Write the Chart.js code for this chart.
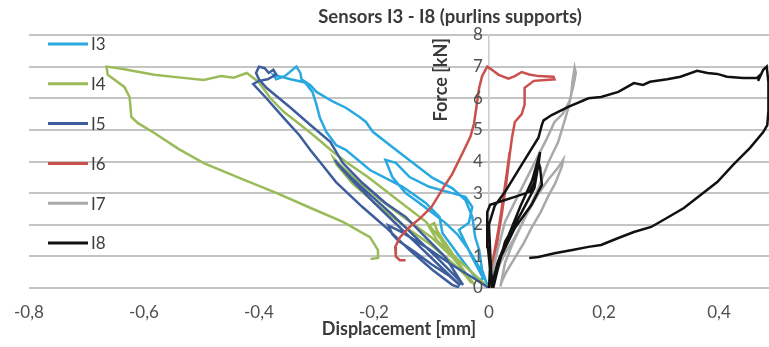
<!DOCTYPE html>
<html>
<head>
<meta charset="utf-8">
<script src="https://cdn.jsdelivr.net/npm/chart.js@4"></script>
<style>
  html, body { margin: 0; padding: 0; background: #fff; }
  #wrap { width: 769px; height: 347px; }
</style>
</head>
<body>
<div id="wrap"><canvas id="chart"></canvas></div>
<script>
// Sensors I3 - I8, force vs displacement
const chartTitle = 'Sensors I3 - I8 (purlins supports)';
const xTitle = 'Displacement [mm]';
const yTitle = 'Force [kN]';
const seriesNames = ['I3', 'I4', 'I5', 'I6', 'I7', 'I8'];
const seriesColors = ['#2aa8e0', '#9bbb59', '#3d5d9c', '#c9504d', '#a9a9a9', '#111111'];
const xTickValues = [-0.8, -0.6, -0.4, -0.2, 0, 0.2, 0.4];
const yTickValues = [0, 1, 2, 3, 4, 5, 6, 7, 8];

// [displacement mm, force kN]
const i3 = [[0,0],[-0.015,0.6],[-0.035,1.2],[-0.055,1.7],[-0.076,2.06],[-0.098,2.37],[-0.121,2.69],[-0.145,3.0],[-0.168,3.51],[-0.18,4.05],
  [-0.162,3.96],[-0.138,3.51],[-0.104,3.2],[-0.064,3.0],[-0.041,2.88],[-0.029,2.56],[-0.035,2.06],[-0.052,1.84],[-0.03,1.0],[-0.01,0.3],
  [-0.02,0.25],[-0.047,0.89],[-0.081,1.74],[-0.086,2.25],[-0.11,2.69],[-0.15,3.2],[-0.207,3.73],[-0.249,4.37],[-0.266,4.52],[-0.283,4.94],
  [-0.294,5.38],[-0.30,5.8],[-0.307,6.2],[-0.32,6.5],[-0.345,6.6],[-0.375,6.74],[-0.37,6.6],[-0.355,6.7],[-0.345,6.85],[-0.335,7.0],
  [-0.328,6.8],[-0.326,6.6],[-0.311,6.42],[-0.30,6.2],[-0.271,5.89],[-0.249,5.7],[-0.225,5.41],[-0.214,5.25],[-0.202,4.94],[-0.162,4.37],
  [-0.128,3.9],[-0.098,3.48],[-0.064,3.16],[-0.041,2.78],[-0.029,2.25],[-0.024,1.61],[-0.017,1.2],[-0.012,0.57],[-0.003,0.1]];

const i4 = [[0,0],[-0.03,0.5],[-0.06,1.0],[-0.09,1.5],[-0.105,1.95],[-0.095,2.05],[-0.09,1.8],[-0.06,1.0],[-0.04,0.45],[-0.025,0.1],
  [-0.064,0.98],[-0.10,1.6],[-0.145,2.2],[-0.19,2.8],[-0.235,3.5],[-0.262,3.95],[-0.27,4.1],[-0.265,3.9],[-0.237,3.3],[-0.19,2.56],
  [-0.145,1.93],[-0.10,1.35],[-0.064,0.8],[-0.041,0.4],[-0.03,0.15],
  [-0.06,0.95],[-0.086,1.6],[-0.11,2.1],[-0.16,2.8],[-0.21,3.5],[-0.249,3.99],[-0.271,4.3],[-0.30,4.75],[-0.328,5.16],[-0.357,5.57],
  [-0.38,6.0],[-0.40,6.5],[-0.421,6.8],[-0.444,6.65],[-0.466,6.7],[-0.496,6.58],[-0.54,6.66],[-0.582,6.74],[-0.639,6.93],[-0.665,7.0],
  [-0.663,6.74],[-0.634,6.36],[-0.625,6.04],[-0.622,5.41],[-0.611,5.22],[-0.582,4.9],[-0.54,4.4],[-0.496,3.95],[-0.43,3.45],[-0.37,3.01],
  [-0.31,2.53],[-0.254,2.09],[-0.207,1.61],[-0.193,1.2],[-0.193,0.95],[-0.206,0.92]];

const i5 = [[0,0],[-0.03,0.35],[-0.07,0.8],[-0.11,1.3],[-0.15,1.75],[-0.175,1.98],[-0.168,1.7],[-0.158,1.5],[-0.13,1.15],[-0.10,0.75],
  [-0.07,0.4],[-0.05,0.08],[-0.08,0.6],[-0.12,1.3],[-0.16,2.0],[-0.20,2.7],[-0.235,3.35],[-0.26,3.85],[-0.268,4.05],[-0.262,3.9],
  [-0.24,3.5],[-0.21,3.0],[-0.17,2.35],[-0.13,1.65],[-0.09,0.95],[-0.06,0.4],[-0.045,0.1],
  [-0.076,0.98],[-0.11,1.6],[-0.145,2.25],[-0.18,2.69],[-0.22,3.32],[-0.254,3.95],[-0.276,4.62],[-0.311,5.16],[-0.345,5.7],
  [-0.387,6.33],[-0.40,6.6],[-0.405,6.8],[-0.40,7.0],[-0.39,6.95],[-0.383,6.8],[-0.375,6.9],[-0.37,6.75],[-0.385,6.6],[-0.40,6.55],
  [-0.41,6.45],[-0.387,6.0],[-0.357,5.38],[-0.33,4.84],[-0.31,4.35],[-0.29,3.9],[-0.266,3.35],[-0.243,2.95],[-0.22,2.56],[-0.18,1.93],
  [-0.138,1.2],[-0.098,0.57],[-0.064,0.1],[-0.052,0.02]];

const i6 = [[0,0],[0.008,1.0],[0.018,2.0],[0.026,3.0],[0.033,3.8],[0.036,4.3],[0.03,3.5],[0.022,2.5],[0.014,1.5],[0.006,0.5],[0.002,0.1],
  [0.012,1.2],[0.022,2.3],[0.03,3.3],[0.036,4.2],[0.04,4.75],[0.045,5.25],[0.057,5.5],[0.062,5.8],[0.062,6.33],[0.078,6.55],[0.114,6.6],
  [0.112,6.68],[0.086,6.7],[0.07,6.75],[0.057,6.83],[0.045,6.7],[0.034,6.62],[0.017,6.74],[0.005,6.9],[-0.003,7.0],[-0.012,6.7],
  [-0.017,6.33],[-0.022,5.7],[-0.026,5.2],[-0.032,4.8],[-0.045,4.3],[-0.064,3.6],[-0.08,3.15],[-0.10,2.56],[-0.12,2.2],[-0.138,1.93],
  [-0.155,1.6],[-0.163,1.3],[-0.162,1.0],[-0.155,0.88],[-0.145,0.88]];

const i7 = [[0,0],[0.012,0.5],[0.028,1.1],[0.045,1.6],[0.065,2.3],[0.085,2.95],[0.104,3.45],[0.12,3.8],[0.129,4.05],[0.127,3.85],
  [0.115,3.3],[0.104,2.94],[0.09,2.4],[0.074,1.9],[0.06,1.4],[0.045,0.95],[0.03,0.5],[0.022,0.19],[0.02,0.05],
  [0.028,0.8],[0.04,1.36],[0.062,2.2],[0.086,3.16],[0.104,4.0],[0.12,4.6],[0.131,5.25],[0.138,5.7],[0.143,6.1],[0.145,6.5],[0.149,6.97],
  [0.151,6.8],[0.147,6.4],[0.14,5.9],[0.128,5.5],[0.114,5.25],[0.10,4.7],[0.086,4.2],[0.057,3.16],[0.028,2.1],[0.015,1.2],[0.005,0.4],[0.003,0]];

const i8 = [[0,0],[0.002,0.6],[-0.002,1.3],[-0.003,1.9],[-0.003,2.4],[0.002,2.63],[0.017,2.72],[0.045,2.88],[0.071,3.04],[0.079,3.35],
  [0.083,3.67],[0.086,3.99],[0.089,3.8],[0.092,3.26],[0.074,2.63],[0.045,1.9],[0.022,1.04],[0.005,0.19],[0.008,0.05],
  [0.018,0.8],[0.028,1.46],[0.057,2.4],[0.079,3.16],[0.086,3.9],[0.089,4.3],[0.075,3.4],[0.055,2.6],[0.035,1.7],[0.015,0.8],[0.005,0.1],
  [0.002,1.2],[0.0,2.0],[0.01,2.6],[0.028,3.04],[0.057,3.9],[0.086,4.75],[0.092,5.16],[0.095,5.3],[0.109,5.47],[0.138,5.73],[0.173,6.0],
  [0.195,6.04],[0.225,6.2],[0.252,6.48],[0.268,6.42],[0.28,6.52],[0.31,6.6],[0.333,6.68],[0.362,6.87],[0.38,6.8],[0.397,6.77],[0.414,6.68],
  [0.442,6.64],[0.466,6.64],[0.472,6.74],[0.468,6.55],[0.477,6.9],[0.483,7.0],[0.486,6.5],[0.486,5.6],[0.484,5.15],[0.477,4.93],
  [0.454,4.43],[0.425,3.9],[0.397,3.35],[0.368,2.94],[0.339,2.53],[0.31,2.22],[0.282,1.93],[0.252,1.77],[0.225,1.58],[0.195,1.36],
  [0.173,1.3],[0.145,1.2],[0.114,1.1],[0.086,0.98],[0.07,0.95]];

const seriesData = [i3, i4, i5, i6, i7, i8];

const fmtTick = v => Math.abs(v) < 1e-9 ? '0' : v.toFixed(1).replace('.', ',');

// titles, y tick labels and the legend drawn over the plot, like the original
const decor = {
  id: 'decor',
  afterDraw(chart) {
    const ctx = chart.ctx;
    const area = chart.chartArea;
    const yScale = chart.scales.y;
    const x0 = chart.scales.x.getPixelForValue(0);
    ctx.save();
    ctx.textBaseline = 'middle';

    // y tick labels, left of the vertical axis at x = 0
    ctx.fillStyle = '#505050';
    ctx.font = '17px Lato';
    ctx.textAlign = 'right';
    yScale.ticks.forEach(t => {
      ctx.fillText(String(t.value), x0 - 6, yScale.getPixelForValue(t.value));
    });

    ctx.fillStyle = '#3a3a3a';
    ctx.textAlign = 'center';
    ctx.font = 'bold 18.5px Lato';
    ctx.fillText(chartTitle, 450, 17);

    ctx.save();
    ctx.font = 'bold 18px Lato';
    ctx.translate(x0 - 48, area.top + 3);
    ctx.rotate(-Math.PI / 2);
    ctx.textAlign = 'right';
    ctx.fillText(yTitle, 0, 0);
    ctx.restore();

    ctx.font = '17px Lato';
    ctx.textAlign = 'left';
    ctx.fillStyle = '#404040';
    chart.data.datasets.forEach((ds, i) => {
      const y = 44 + i * 39.8;
      ctx.strokeStyle = ds.borderColor;
      ctx.lineWidth = 3;
      ctx.beginPath();
      ctx.moveTo(48, y);
      ctx.lineTo(88, y);
      ctx.stroke();
      ctx.fillText(ds.label, 91, y + 1);
    });
    ctx.restore();
  }
};

new Chart(document.getElementById('chart'), {
  type: 'scatter',
  data: {
    datasets: seriesNames.map((name, i) => ({
      label: name,
      data: seriesData[i].map(p => ({x: p[0], y: p[1]})),
      borderColor: seriesColors[i],
      backgroundColor: seriesColors[i],
      borderWidth: 2.5,
      showLine: true,
      pointRadius: 0,
      tension: 0,
      order: seriesNames.length - i
    }))
  },
  options: {
    responsive: true,
    maintainAspectRatio: false,
    animation: false,
    layout: { padding: { left: 24, right: 0, top: 35, bottom: 7 } },
    plugins: {
      legend: { display: false },
      title: { display: false },
      tooltip: { enabled: false }
    },
    scales: {
      x: {
        type: 'linear',
        min: -0.8,
        max: 0.487,
        afterBuildTicks: s => { s.ticks = xTickValues.map(v => ({value: v})); },
        ticks: { callback: fmtTick, padding: 14, color: '#505050', font: { family: 'Lato', size: 17 }, maxRotation: 0 },
        grid: { display: false, drawTicks: false },
        border: { display: false },
        title: { display: true, text: xTitle, color: '#3a3a3a', padding: { top: -18, bottom: 0 },
                 font: { family: 'Lato', size: 18, weight: 'bold' } }
      },
      y: {
        type: 'linear',
        position: { x: 0 },
        min: 0,
        max: 8,
        afterBuildTicks: s => { s.ticks = yTickValues.map(v => ({value: v})); },
        ticks: { display: false },
        grid: { color: '#c4c4c4', lineWidth: 2, drawTicks: false },
        border: { display: true, color: '#cccccc', width: 1.5 }
      }
    }
  },
  plugins: [decor]
});
</script>
</body>
</html>
